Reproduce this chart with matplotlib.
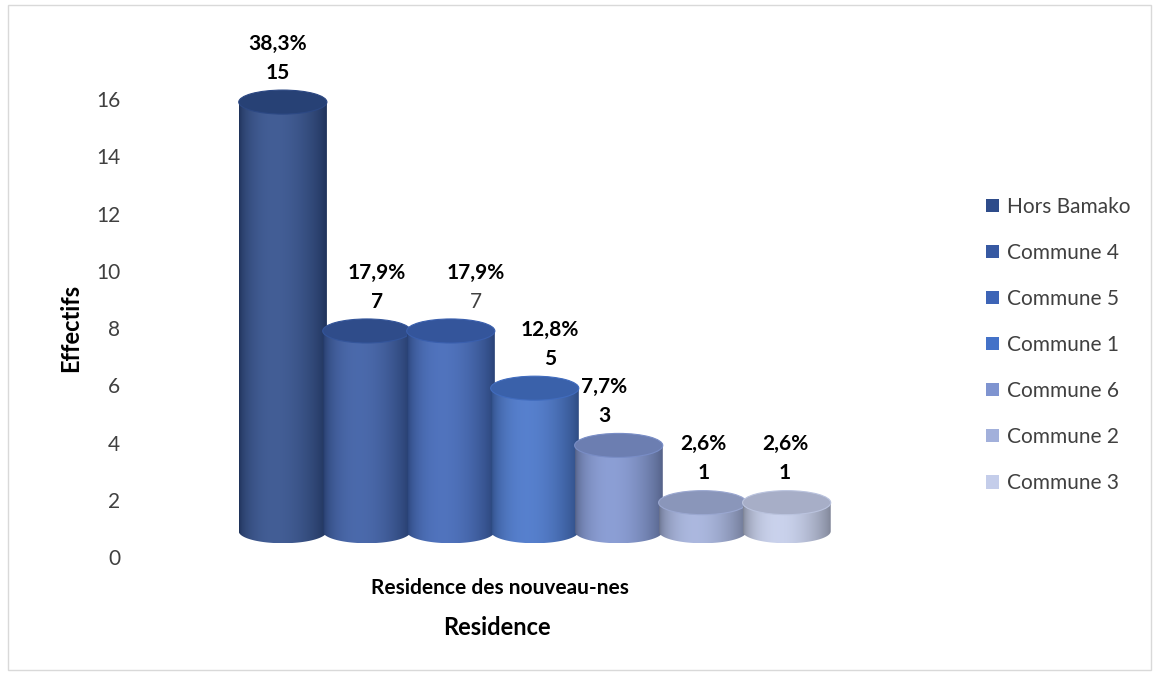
import numpy as np
import matplotlib.pyplot as plt
from matplotlib.path import Path
from matplotlib.patches import PathPatch, Ellipse, Patch, Rectangle
from matplotlib.colors import to_rgb

plt.rcParams['font.family'] = ['Lato', 'DejaVu Sans']

# data
categories = ["Hors Bamako", "Commune 4", "Commune 5", "Commune 1",
              "Commune 6", "Commune 2", "Commune 3"]
effectifs = [15, 7, 7, 5, 3, 1, 1]
pourcent = [38.3, 17.9, 17.9, 12.8, 7.7, 2.6, 2.6]
yticks = [0, 2, 4, 6, 8, 10, 12, 14, 16]
group_label = "Residence des nouveau-nes"

# style
colors = ["#2E4C8A", "#3759A2", "#3D64B6", "#4472C8",
          "#7F94D0", "#A2B0DB", "#C4CDEA"]
count_bold = [True, True, False, True, True, True, True]
label_dx = [-0.06, 0.12, 0.3, 0.18, -0.17, 0.01, -0.02]
BW = 1.05      # cylinder width
EH = 0.84      # ellipse height
BASE = 0.9     # 3d depth offset

fig = plt.figure(figsize=(11.55, 6.75), dpi=100)
fig.patches.append(Rectangle((8 / 1155, 1 - 670 / 675), 1143 / 1155, 665 / 675,
                             transform=fig.transFigure, fill=False,
                             edgecolor="#d9d9d9", lw=1))
ax = fig.add_axes([130 / 1155, 1 - 557 / 675, 770 / 1155, 515 / 675])


def shade(c, f):
    c = np.array(to_rgb(c))
    if f >= 1:
        return c + (1 - c) * (f - 1)
    return c * f


def cylinder(xc, v, c, z):
    x0, x1 = xc - BW / 2, xc + BW / 2
    y0, y1 = BASE, BASE + v
    th = np.linspace(np.pi, 2 * np.pi, 60)
    bx = xc + BW / 2 * np.cos(th)
    by = y0 + EH / 2 * np.sin(th)
    verts = [(x0, y1)] + list(zip(bx, by)) + [(x1, y1), (x0, y1)]
    codes = [Path.MOVETO] + [Path.LINETO] * (len(verts) - 2) + [Path.CLOSEPOLY]
    patch = PathPatch(Path(verts, codes), facecolor="none", edgecolor="none")
    ax.add_patch(patch)
    t = np.linspace(0, 1, 200)
    w = np.sin(np.pi * t ** 0.76) ** 0.7
    dark = shade(c, 0.62)
    light = shade(c, 1.1)
    grad = dark[None, :] * (1 - w[:, None]) + light[None, :] * w[:, None]
    im = ax.imshow(grad[None, :, :], extent=[x0, x1, y0 - EH / 2, y1],
                   aspect="auto", zorder=z, interpolation="bilinear")
    im.set_clip_path(patch)
    ax.add_patch(Ellipse((xc, y1), BW, EH, facecolor=shade(c, 0.85),
                         edgecolor=shade(c, 0.95), lw=0.8, zorder=z + 0.01))


x = np.arange(len(categories))
for i, (xi, v, p) in enumerate(zip(x, effectifs, pourcent)):
    cylinder(xi, v, colors[i], 2 + i * 0.1)
    top = BASE + v
    ax.annotate(f"{p:.1f}".replace(".", ",") + "%", (xi + label_dx[i], top),
                xytext=(0, 42), textcoords="offset points", ha="center",
                va="center", fontsize=15, fontweight="bold", color="black",
                zorder=10)
    ax.annotate(str(v), (xi + label_dx[i], top),
                xytext=(0, 21), textcoords="offset points", ha="center",
                va="center", fontsize=15,
                fontweight="bold" if count_bold[i] else "normal",
                color="black" if count_bold[i] else "#404040", zorder=10)

ax.set_xlim(-1.82, 7.35)
ax.set_ylim(0, 18)
ax.set_yticks(yticks)
ax.set_xticks([])
ax.tick_params(axis="y", length=0, pad=7, labelsize=15, labelcolor="#404040")
for s in ax.spines.values():
    s.set_visible(False)

ax.text(0.48, -0.06, group_label, transform=ax.transAxes, ha="center",
        va="center", fontsize=15, fontweight="bold", color="black")
ax.set_xlabel("Residence", fontsize=17, fontweight="bold")
ax.xaxis.set_label_coords(0.477, -0.115)
ax.set_ylabel("Effectifs", fontsize=17, fontweight="bold")
ax.yaxis.set_label_coords(-0.062, 0.445)

handles = [Patch(facecolor=c, edgecolor="none") for c in colors]
fig.legend(handles, categories, loc="upper left",
           bbox_to_anchor=(986 / 1155, 1 - 197 / 675),
           bbox_transform=fig.transFigure, frameon=False, fontsize=15,
           handlelength=0.6, handleheight=0.6, handletextpad=0.4,
           labelspacing=1.25, borderpad=0, borderaxespad=0,
           labelcolor="#404040")

fig.savefig("out.png", dpi=100)
